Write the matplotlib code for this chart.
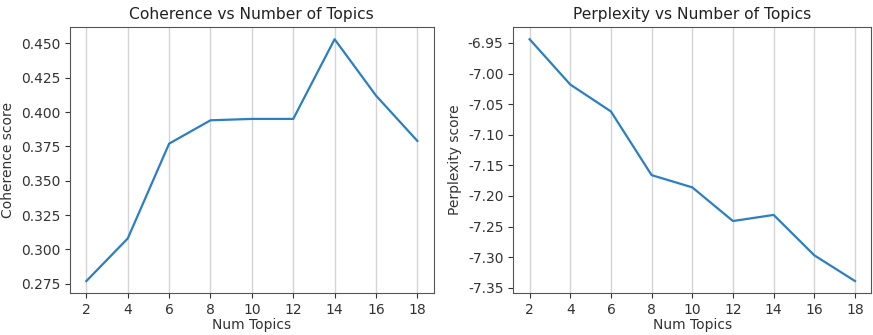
import numpy as np
import matplotlib
matplotlib.use('Agg')
import matplotlib.pyplot as plt

# datos
num_topics = [2, 4, 6, 8, 10, 12, 14, 16, 18]
coherence = [0.277, 0.308, 0.377, 0.394, 0.395, 0.395, 0.453, 0.412, 0.379]
perplexity = [-6.944, -7.018, -7.062, -7.166, -7.186, -7.241, -7.231, -7.297, -7.339]

fig = plt.figure(figsize=(8.73, 3.35), dpi=100)
ax1 = fig.add_axes([0.080, 0.125, 0.417, 0.794])
ax2 = fig.add_axes([0.588, 0.125, 0.410, 0.794])

for ax, y, titulo, etiqueta in [
        (ax1, coherence, 'Coherence vs Number of Topics', 'Coherence score'),
        (ax2, perplexity, 'Perplexity vs Number of Topics', 'Perplexity score')]:
    ax.plot(num_topics, y, color='#2c7fc0', linewidth=1.6)
    ax.set_xticks(num_topics)
    ax.grid(axis='x', color='#d4d4d4', linewidth=1)
    ax.set_axisbelow(True)
    ax.set_title(titulo, fontsize=11.2, color='#222222')
    ax.set_xlabel('Num Topics', fontsize=10, color='#333333', labelpad=1)
    ax.set_ylabel(etiqueta, fontsize=10, color='#333333')
    ax.tick_params(labelsize=10, colors='#333333')
    for s in ax.spines.values():
        s.set_color('#555555')

ax1.set_yticks([0.275, 0.300, 0.325, 0.350, 0.375, 0.400, 0.425, 0.450])
ax1.yaxis.set_major_formatter(matplotlib.ticker.FormatStrFormatter('%.3f'))
ax2.yaxis.set_major_formatter(matplotlib.ticker.FormatStrFormatter('%.2f'))

fig.savefig('out.png', dpi=100)
